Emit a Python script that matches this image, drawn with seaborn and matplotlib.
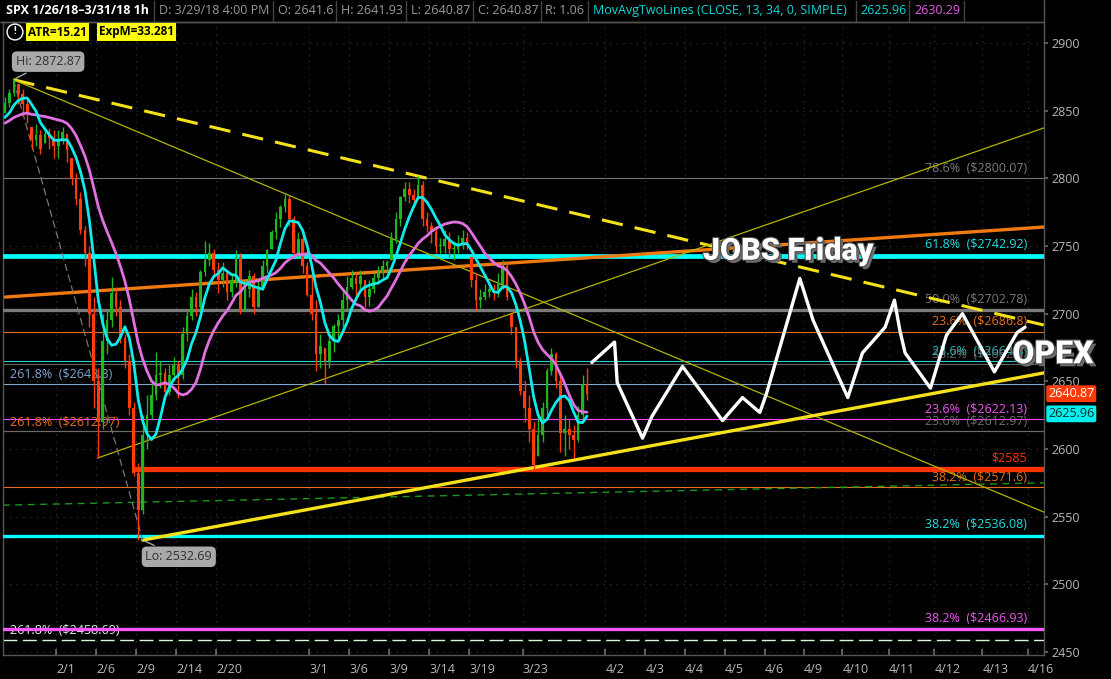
import numpy as np
import pandas as pd
import seaborn as sns
import matplotlib.pyplot as plt
import matplotlib.patheffects as pe
from matplotlib.lines import Line2D
from matplotlib.transforms import blended_transform_factory

sns.set_theme(style="dark", rc={"axes.facecolor": "black", "figure.facecolor": "black"})
plt.rcParams['font.family'] = ['Open Sans', 'DejaVu Sans']

days = ['1/26', '1/29', '1/30', '1/31', '2/1', '2/2', '2/5', '2/6', '2/7', '2/8', '2/9',
        '2/12', '2/13', '2/14', '2/15', '2/16', '2/20', '2/21', '2/22', '2/23', '2/26',
        '2/27', '2/28', '3/1', '3/2', '3/5', '3/6', '3/7', '3/8', '3/9', '3/12', '3/13',
        '3/14', '3/15', '3/16', '3/19', '3/20', '3/21', '3/22', '3/23', '3/26', '3/27',
        '3/28', '3/29']

close = [2856, 2863, 2872, 2862, 2855, 2848, 2828, 2832, 2822, 2833, 2830, 2824,
         2828, 2834, 2821, 2800, 2785, 2762, 2745, 2700, 2650, 2620, 2680, 2695,
         2715, 2705, 2682, 2665, 2630, 2582, 2555, 2610, 2625, 2640, 2655, 2656,
         2642, 2655, 2662, 2655, 2685, 2698, 2712, 2705, 2731, 2740, 2745, 2732,
         2725, 2730, 2716, 2725, 2742, 2702, 2718, 2728, 2705, 2720, 2735, 2747,
         2760, 2770, 2779, 2785, 2770, 2745, 2755, 2735, 2714, 2700, 2670, 2676,
         2665, 2680, 2691, 2695, 2710, 2720, 2726, 2722, 2728, 2712, 2718, 2726,
         2730, 2735, 2738, 2755, 2770, 2786, 2792, 2788, 2784, 2795, 2770, 2765,
         2760, 2750, 2750, 2755, 2748, 2748, 2752, 2756, 2752, 2725, 2710, 2712,
         2716, 2718, 2716, 2722, 2735, 2712, 2690, 2665, 2643, 2630, 2615, 2588,
         2610, 2630, 2658, 2670, 2650, 2612, 2615, 2610, 2607, 2625, 2648, 2641]

high = [2860, 2866, 2873, 2870, 2866, 2858, 2838, 2840, 2836, 2838, 2837, 2836,
        2836, 2838, 2833, 2815, 2804, 2790, 2765, 2750, 2712, 2660, 2700, 2702,
        2727, 2720, 2710, 2685, 2670, 2635, 2590, 2625, 2640, 2650, 2672, 2665,
        2660, 2662, 2668, 2665, 2690, 2702, 2718, 2716, 2732, 2754, 2752, 2748,
        2738, 2738, 2732, 2730, 2747, 2745, 2725, 2732, 2730, 2725, 2740, 2748,
        2762, 2775, 2780, 2789, 2788, 2772, 2760, 2762, 2738, 2730, 2710, 2685,
        2675, 2685, 2692, 2700, 2716, 2728, 2732, 2730, 2732, 2725, 2725, 2730,
        2735, 2740, 2740, 2760, 2775, 2787, 2797, 2797, 2792, 2802, 2798, 2775,
        2768, 2765, 2756, 2762, 2760, 2754, 2758, 2762, 2760, 2742, 2730, 2718,
        2722, 2723, 2722, 2730, 2740, 2738, 2700, 2690, 2668, 2650, 2640, 2620,
        2625, 2635, 2660, 2675, 2672, 2655, 2625, 2622, 2618, 2632, 2655, 2660]

low = [2848, 2853, 2861, 2855, 2846, 2841, 2822, 2824, 2818, 2826, 2822, 2815,
       2815, 2825, 2812, 2795, 2780, 2759, 2735, 2690, 2630, 2593, 2615, 2670,
       2690, 2698, 2678, 2660, 2625, 2580, 2533, 2552, 2600, 2622, 2636, 2645,
       2636, 2640, 2650, 2638, 2652, 2680, 2695, 2698, 2702, 2728, 2735, 2728,
       2715, 2720, 2710, 2712, 2720, 2700, 2702, 2712, 2700, 2705, 2718, 2730,
       2748, 2755, 2764, 2775, 2765, 2742, 2742, 2730, 2713, 2695, 2658, 2660,
       2648, 2660, 2672, 2682, 2690, 2702, 2718, 2712, 2718, 2705, 2706, 2715,
       2722, 2726, 2730, 2740, 2752, 2765, 2783, 2782, 2779, 2785, 2765, 2760,
       2752, 2745, 2744, 2745, 2742, 2740, 2745, 2748, 2748, 2720, 2703, 2704,
       2710, 2712, 2710, 2712, 2718, 2710, 2685, 2660, 2640, 2620, 2605, 2585,
       2595, 2605, 2625, 2655, 2645, 2598, 2595, 2600, 2593, 2605, 2620, 2636]

# closes before 1/26 (off screen) so the averages start where the chart shows them
prior_close = [2834, 2838, 2841, 2836, 2839, 2842, 2837, 2835, 2839, 2843, 2838, 2841, 2845, 2847]

# future date ticks of the expansion area
future_days = ['4/2', '4/3', '4/4', '4/5', '4/6', '4/9', '4/10', '4/11', '4/12', '4/13', '4/16']
future_pos = [45.2, 48.2, 51.2, 54.2, 57.2, 60.1, 63.0, 66.5, 69.9, 73.5, 76.9]
hist_ticks = ['2/1', '2/6', '2/9', '2/14', '2/20', '3/1', '3/6', '3/9', '3/14', '3/19', '3/23']

# hand drawn forecast path
fc_x = [44.2, 45.9, 46.1, 48.0, 48.7, 51.0, 54.0, 55.5, 56.8, 57.3, 59.8, 60.8, 63.4,
        64.5, 66.2, 66.9, 67.3, 67.7, 69.6, 70.8, 72.0, 74.4, 76.1, 76.7]
fc_y = [2664, 2679, 2649, 2608, 2624, 2661, 2621, 2638, 2627, 2641, 2726, 2695, 2638,
        2671, 2690, 2710, 2688, 2671, 2645, 2684, 2700, 2657, 2686, 2690]

# trend lines (x in trading-day units, price)
dash_top = ([0.8, 78.1], [2872.87, 2691.6])
thin_down = ([0.8, 78.1], [2872.87, 2553.4])
thin_up = ([7.1, 78.1], [2593.3, 2837.2])
yellow_up = ([10.5, 78.1], [2532.69, 2656.2])
orange_up = ([0.2, 78.1], [2712.3, 2764.0])
hi_lo = ([0.8, 10.5], [2872.87, 2532.69])
green_dash = ([0.0, 78.1], [2558.5, 2575.0])

# fib levels labelled at the right
right_prices = [2800.07, 2742.92, 2702.78, 2686.8, 2664.8, 2662.8, 2622.13, 2612.97,
                2585, 2571.6, 2536.08, 2466.93]
right_text = ['78.6%  ($2800.07)', '61.8%  ($2742.92)', '50.0%  ($2702.78)',
              '23.6%  ($2686.8)', '23.6%  ($2664.8)', '38.2%  ($2662.8)',
              '23.6%  ($2622.13)', '23.6%  ($2612.97)', '$2585', '38.2%  ($2571.6)',
              '38.2%  ($2536.08)', '38.2%  ($2466.93)']
right_col = ['#7c7c7c', '#22e0e0', '#777777', '#e8701a', '#1fc8c8', '#666666',
             '#ee55ee', '#6e6e6e', '#ff3300', '#e8701a', '#22e0e0', '#ee55ee']
right_lw = [0.8, 3.4, 2.4, 0.8, 0.8, 0.8, 0.8, 0.8, 3.8, 0.8, 2.4, 2.4]
right_line_col = ['#777777', '#00ffff', '#7a7a7a', '#e8701a', '#20d0d0', '#666666',
                  '#ff44ff', '#6a6a6a', '#ff3300', '#e8701a', '#00ffff', '#ff55ff']

left_prices = [2648.3, 2612.97, 2458.69]
left_text = ['261.8%  ($2648.3)', '261.8%  ($2612.97)', '261.8%  ($2458.69)']
left_col = ['#7fa7cf', '#e8701a', '#d8f8d8']

# ---- bars
n_per_day = 3
df = pd.DataFrame({'close': close, 'high': high, 'low': low})
df['x'] = np.arange(len(df)) / n_per_day + 0.5 / n_per_day
prev = pd.Series(prior_close[-1:] + close[:-1])
df['open'] = np.clip(prev.values, df['low'], df['high'])
full = pd.Series(prior_close + close)
df['ma13'] = full.rolling(6, min_periods=1).mean().values[len(prior_close):]
df['ma34'] = full.rolling(15, min_periods=1).mean().values[len(prior_close):]

fig = plt.figure(figsize=(11.11, 6.79), dpi=100)
ax = fig.add_axes([3 / 1111, 1 - 655 / 679, 1041 / 1111, 633 / 679])
ax.set_facecolor('black')
ax.set_xlim(0.02, 78.12)
ax.set_ylim(2447.8, 2915.5)

# grid
xt = [days.index(d) for d in hist_ticks] + future_pos
for x in xt:
    ax.axvline(x, color='#3a3a3a', lw=0.8, ls=(0, (1, 5)), zorder=0)
for y in range(2450, 2901, 50):
    ax.axhline(y, color='#3a3a3a', lw=0.8, ls=(0, (1, 5)), zorder=0)

# fib lines
yt = blended_transform_factory(ax.transAxes, ax.transData)
ax.axhline(2612.97, color='#e8701a', lw=0.8, zorder=1)
for p, lc, lw in zip(right_prices, right_line_col, right_lw):
    if p == 2585:
        ax.hlines(p, 9.78, 78.12, color=lc, lw=lw, zorder=3)
    else:
        ax.axhline(p, color=lc, lw=lw, zorder=1 if lw < 1 else 3)
ax.axhline(2648.3, color='#7fa7cf', lw=0.8, zorder=1)
ax.axhline(2458.69, color='#d8f8d8', lw=1.0, ls=(0, (10, 4)), zorder=1)

for p, t, c, lw in zip(right_prices, right_text, right_col, right_lw):
    ax.annotate(t, xy=(0.9837, p), xycoords=yt, xytext=(0, 6.5 + lw / 2),
                textcoords='offset points', ha='right', va='center', color=c,
                fontsize=9, zorder=2)
for p, t, c in zip(left_prices, left_text, left_col):
    ax.annotate(t, xy=(0.0067, p), xycoords=yt, xytext=(0, 6.7),
                textcoords='offset points', ha='left', va='center', color=c,
                fontsize=9, zorder=2)

# trend lines
ax.plot(*orange_up, color='#f07a10', lw=2.4, zorder=4)
ax.plot(*dash_top, color='#f5e11a', lw=2.2, ls=(0, (7, 4)), zorder=4)
ax.plot(*thin_down, color='#b4b400', lw=0.9, zorder=4)
ax.plot(*thin_up, color='#b4b400', lw=0.9, zorder=4)
ax.plot(*yellow_up, color='#f5e11a', lw=2.4, zorder=4)
ax.plot(*hi_lo, color='#777777', lw=0.9, ls=(0, (6, 3)), zorder=4)
ax.plot(*green_dash, color='#1a9a1a', lw=1.0, ls=(0, (5, 4)), zorder=2)

# candles
up = df['close'] >= df['open']
bar_col = np.where(up, '#1fb51f', '#ff3c0a')
ax.vlines(df['x'], df['low'], df['high'], color=bar_col, lw=1.0, zorder=5)
ax.bar(df['x'], (df['close'] - df['open']).abs().clip(lower=0.8),
       bottom=np.minimum(df['open'], df['close']), width=0.2, color=bar_col,
       linewidth=0, zorder=5)

# moving averages
sns.lineplot(data=df, x='x', y='ma34', color='#e070e0', lw=2.0, ax=ax, zorder=6)
sns.lineplot(data=df, x='x', y='ma13', color='#10eaea', lw=2.0, ax=ax, zorder=6)

# forecast
fc = pd.DataFrame({'x': fc_x, 'y': fc_y})
sns.lineplot(data=fc, x='x', y='y', color='white', lw=2.4, ax=ax, sort=False, zorder=7)

# Hi / Lo callouts
box = dict(boxstyle='round,pad=0.3,rounding_size=0.4', fc='#a9a9a9', ec='none')
ax.annotate('Hi: %.2f' % 2872.87, xy=(hi_lo[0][0], hi_lo[1][0]), xytext=(25, 13),
            textcoords='offset points', ha='center', va='center', color='#303030',
            fontsize=9, bbox=box, zorder=9,
            arrowprops=dict(arrowstyle='-', color='#a9a9a9', lw=1))
ax.annotate('Lo: %.2f' % 2532.69, xy=(hi_lo[0][1], hi_lo[1][1]), xytext=(26, -12),
            textcoords='offset points', ha='center', va='center', color='#303030',
            fontsize=9, bbox=box, zorder=9,
            arrowprops=dict(arrowstyle='-', color='#a9a9a9', lw=1))

# big notes
fx = [pe.SimplePatchShadow(offset=(2.2, -2.2), shadow_rgbFace='#6a6a6a', alpha=1.0),
      pe.Stroke(linewidth=1.6, foreground='#505050'), pe.Normal()]
ax.text(58.9, 2746.5, 'JOBS Friday', color='white', fontsize=22, fontweight='black',
        family=['Roboto', 'DejaVu Sans'], ha='center', va='center',
        path_effects=fx, zorder=10)
ax.text(78.8, 2670, 'OPEX', color='white', fontsize=23, fontweight='black',
        family=['Roboto', 'DejaVu Sans'], ha='center', va='center',
        path_effects=fx, zorder=10, clip_on=False)

# axes styling
ax.set_xticks(xt, hist_ticks + future_days)
for lab in ax.get_xticklabels():
    lab.set_ha('left')
ax.set_yticks(range(2450, 2901, 50))
ax.yaxis.tick_right()
ax.tick_params(axis='x', colors='#6a6a6a', labelcolor='#b8b8b8', direction='in',
               length=4, labelsize=9, pad=6, bottom=True)
ax.tick_params(axis='y', colors='#6a6a6a', labelcolor='#b8b8b8', direction='out',
               length=3, labelsize=9, pad=2, right=True)
ax.set_xlabel('')
ax.set_ylabel('')
ax.grid(False)
for s in ax.spines.values():
    s.set_color('#555555')
    s.set_linewidth(1)

# last price tags
ax.annotate('2640.87', xy=(1.004, 2640.87), xycoords=yt, ha='left', va='center',
            color='white', fontsize=9, annotation_clip=False,
            bbox=dict(boxstyle='round,pad=0.15', fc='#ff3a0a', ec='none'))
ax.annotate('2625.96', xy=(1.004, 2625.96), xycoords=yt, ha='left', va='center',
            color='#0a2a2a', fontsize=9, annotation_clip=False,
            bbox=dict(boxstyle='round,pad=0.15', fc='#00f0f0', ec='none'))

# header strip
def fpx(x, y):
    return x / 1111, 1 - y / 679

hdr = [(6, 'SPX 1/26/18\u20133/31/18 1h', 'white', 'bold'),
       (159, 'D: 3/29/18 4:00 PM', '#9a9a9a', 'normal'),
       (278, 'O: 2641.6', '#9a9a9a', 'normal'),
       (341, 'H: 2641.93', '#9a9a9a', 'normal'),
       (411, 'L: 2640.87', '#9a9a9a', 'normal'),
       (478, 'C: 2640.87', '#9a9a9a', 'normal'),
       (545, 'R: 1.06', '#9a9a9a', 'normal'),
       (593, 'MovAvgTwoLines (CLOSE, 13, 34, 0, SIMPLE)', '#10d8d8', 'normal'),
       (860, '2625.96', '#10d8d8', 'normal'),
       (914, '2630.29', '#e060e0', 'normal')]
for x, t, c, w in hdr:
    fig.text(*fpx(x, 10.5), t, color=c, fontsize=9, fontweight=w, va='center', ha='left')
for x in [154, 273, 336, 406, 473, 541, 588, 856, 909, 964]:
    fig.add_artist(Line2D([x / 1111] * 2, [1 - 1 / 679, 1 - 21 / 679], color='#444444', lw=1))
fig.add_artist(Line2D([0, 1044 / 1111], [1 - 21.5 / 679] * 2, color='#555555', lw=1))
fig.add_artist(Line2D([1044 / 1111] * 2, [1 - 0 / 679, 1 - 22 / 679], color='#555555', lw=1))

# study badges
fig.text(*fpx(15, 32), '!', color='white', fontsize=7, fontweight='bold', ha='center',
         va='center', bbox=dict(boxstyle='circle,pad=0.25', fc='none', ec='white', lw=1))
fig.text(*fpx(28, 32), 'ATR=15.21', color='black', fontsize=8.5, fontweight='bold',
         ha='left', va='center', bbox=dict(boxstyle='square,pad=0.2', fc='#ffff00', ec='none'))
fig.text(*fpx(99, 32), 'ExpM=33.281', color='black', fontsize=8.5, fontweight='bold',
         ha='left', va='center', bbox=dict(boxstyle='square,pad=0.2', fc='#ffff00', ec='none'))

fig.savefig('out.png', dpi=100, facecolor='black')
